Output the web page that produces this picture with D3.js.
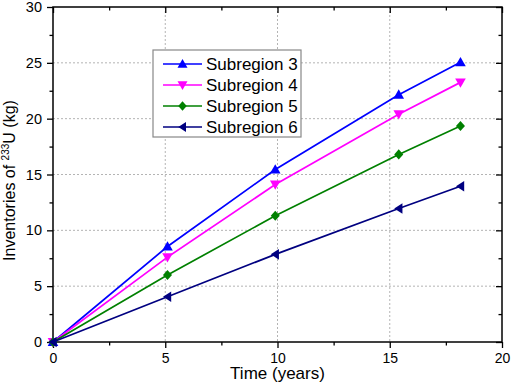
<!DOCTYPE html>
<html>
<head>
<meta charset="utf-8">
<script src="https://cdn.jsdelivr.net/npm/d3@7"></script>
<style>
  body { margin: 0; background: #fff; }
  text { font-family: Arial, "Liberation Sans", sans-serif; fill: #000; }
</style>
</head>
<body>
<div id="chart"></div>
<script>
// data
const times = [0, 5.1, 9.9, 15.4, 18.15];
const sub3 = [0, 8.55, 15.45, 22.15, 25.05];
const sub4 = [0, 7.6, 14.1, 20.4, 23.25];
const sub5 = [0, 6.0, 11.3, 16.8, 19.35];
const sub6 = [0, 4.05, 7.85, 11.95, 13.95];
const seriesNames = ["Subregion 3", "Subregion 4", "Subregion 5", "Subregion 6"];
const xTicks = [0, 5, 10, 15, 20];
const yTicks = [0, 5, 10, 15, 20, 25, 30];

const colors = ["#0000ff", "#ff00ff", "#008000", "#000080"];
const shapes = ["up", "down", "diamond", "left"];
const allSeries = [sub3, sub4, sub5, sub6];

let margin = {top: 7, right: 10, bottom: 42, left: 53};
let W = 512, H = 384;
let width = W - margin.left - margin.right;   // 449
let height = H - margin.top - margin.bottom;  // 335

let svg = d3.select("#chart").append("svg")
    .attr("width", W)
    .attr("height", H)
    .append("g")
    .attr("transform", "translate(" + margin.left + "," + margin.top + ")");

let x = d3.scaleLinear().domain([0, 20]).range([0, width]);
let y = d3.scaleLinear().domain([0, 30]).range([height, 0]);

// grid
svg.append("g").selectAll("line.gx")
    .data(xTicks.filter(d => d > 0 && d < 20))
    .enter().append("line")
    .attr("x1", d => x(d)).attr("x2", d => x(d))
    .attr("y1", 0).attr("y2", height)
    .attr("stroke", "#b4b4b4").attr("stroke-width", 1)
    .attr("stroke-dasharray", "2,2");

svg.append("g").selectAll("line.gy")
    .data(yTicks.filter(d => d > 0 && d < 30))
    .enter().append("line")
    .attr("x1", 0).attr("x2", width)
    .attr("y1", d => y(d)).attr("y2", d => y(d))
    .attr("stroke", "#b4b4b4").attr("stroke-width", 1)
    .attr("stroke-dasharray", "2,2");

// ticks: outward on bottom/left, inward on top/right; minor every 2.5
let minorX = [2.5, 7.5, 12.5, 17.5];
let minorY = [2.5, 7.5, 12.5, 17.5, 22.5, 27.5];

function ticks(axisFn, scale, vals, size) {
    return axisFn(scale).tickValues(vals).tickSizeInner(size).tickSizeOuter(0)
        .tickPadding(0).tickFormat("");
}

let bottomG = svg.append("g").attr("transform", "translate(0," + height + ")");
bottomG.append("g").call(ticks(d3.axisBottom, x, xTicks, 6));
bottomG.append("g").call(ticks(d3.axisBottom, x, minorX, 3.5));
let topG = svg.append("g");
topG.append("g").call(ticks(d3.axisTop, x, xTicks, -6));
topG.append("g").call(ticks(d3.axisTop, x, minorX, -3.5));
let leftG = svg.append("g");
leftG.append("g").call(ticks(d3.axisLeft, y, yTicks, 6));
leftG.append("g").call(ticks(d3.axisLeft, y, minorY, 3.5));
let rightG = svg.append("g").attr("transform", "translate(" + width + ",0)");
rightG.append("g").call(ticks(d3.axisRight, y, yTicks, -6));
rightG.append("g").call(ticks(d3.axisRight, y, minorY, -3.5));

// tick labels
let bottomL = svg.append("g").attr("transform", "translate(0," + height + ")")
    .call(d3.axisBottom(x).tickValues(xTicks).tickSize(0).tickPadding(11).tickFormat(d3.format("d")));
let leftL = svg.append("g")
    .call(d3.axisLeft(y).tickValues(yTicks).tickSize(0).tickPadding(11).tickFormat(d3.format("d")));

svg.selectAll(".domain").remove();
svg.selectAll(".tick line").attr("stroke", "#000").attr("stroke-width", 1.3);
bottomL.selectAll("text").style("font-size", "14px").attr("dy", "0.71em");
leftL.selectAll("text").style("font-size", "14.5px");

svg.append("rect")
    .attr("width", width).attr("height", height)
    .attr("fill", "none").attr("stroke", "#000").attr("stroke-width", 1.5);

// axis titles
svg.append("text")
    .attr("text-anchor", "middle")
    .attr("x", width / 2)
    .attr("y", height + 37)
    .style("font-size", "17px")
    .text("Time (years)");

let yl = svg.append("text")
    .attr("text-anchor", "middle")
    .attr("transform", "translate(-38," + (height / 2 + 6) + ") rotate(-90)")
    .style("font-size", "16px");
yl.append("tspan").text("Inventories of ");
yl.append("tspan").attr("dy", -6).style("font-size", "10px").text("233");
yl.append("tspan").attr("dy", 6).text("U (kg)");

// markers
function markerPath(shape, s) {
    if (shape === "up") return `M0,${-s}L${s},${s * 0.75}L${-s},${s * 0.75}Z`;
    if (shape === "down") return `M0,${s}L${s},${-s * 0.75}L${-s},${-s * 0.75}Z`;
    if (shape === "diamond") return `M0,${-s * 0.95}L${s * 0.85},0L0,${s * 0.95}L${-s * 0.85},0Z`;
    return `M${-s * 0.85},0L${s * 0.7},${-s}L${s * 0.7},${s}Z`;
}

let line = d3.line().x(d => x(d[0])).y(d => y(d[1]));

allSeries.forEach(function (vals, i) {
    let pts = times.map((t, j) => [t, vals[j]]);
    svg.append("path")
        .datum(pts)
        .attr("d", line)
        .attr("fill", "none")
        .attr("stroke", colors[i])
        .attr("stroke-width", 1.7);
    svg.selectAll(".m" + i)
        .data(pts)
        .enter().append("path")
        .attr("class", "m" + i)
        .attr("transform", d => "translate(" + x(d[0]) + "," + y(d[1]) + ")")
        .attr("d", markerPath(shapes[i], 5.3))
        .attr("fill", colors[i]);
});

// legend
let legend = svg.append("g").attr("transform", "translate(" + (153 - margin.left) + "," + (50 - margin.top) + ")");
legend.append("rect")
    .attr("width", 148).attr("height", 87)
    .attr("fill", "#fff").attr("stroke", "#888").attr("stroke-width", 1.2);

seriesNames.forEach(function (name, i) {
    let cy = 14 + i * 21;
    legend.append("line")
        .attr("x1", 10).attr("x2", 49)
        .attr("y1", cy).attr("y2", cy)
        .attr("stroke", colors[i]).attr("stroke-width", 1.7);
    legend.append("path")
        .attr("transform", "translate(29.5," + cy + ")")
        .attr("d", markerPath(shapes[i], 5))
        .attr("fill", colors[i]);
    legend.append("text")
        .attr("x", 53)
        .attr("y", cy)
        .attr("dy", "0.36em")
        .style("font-size", "17px")
        .text(name);
});
</script>
</body>
</html>
